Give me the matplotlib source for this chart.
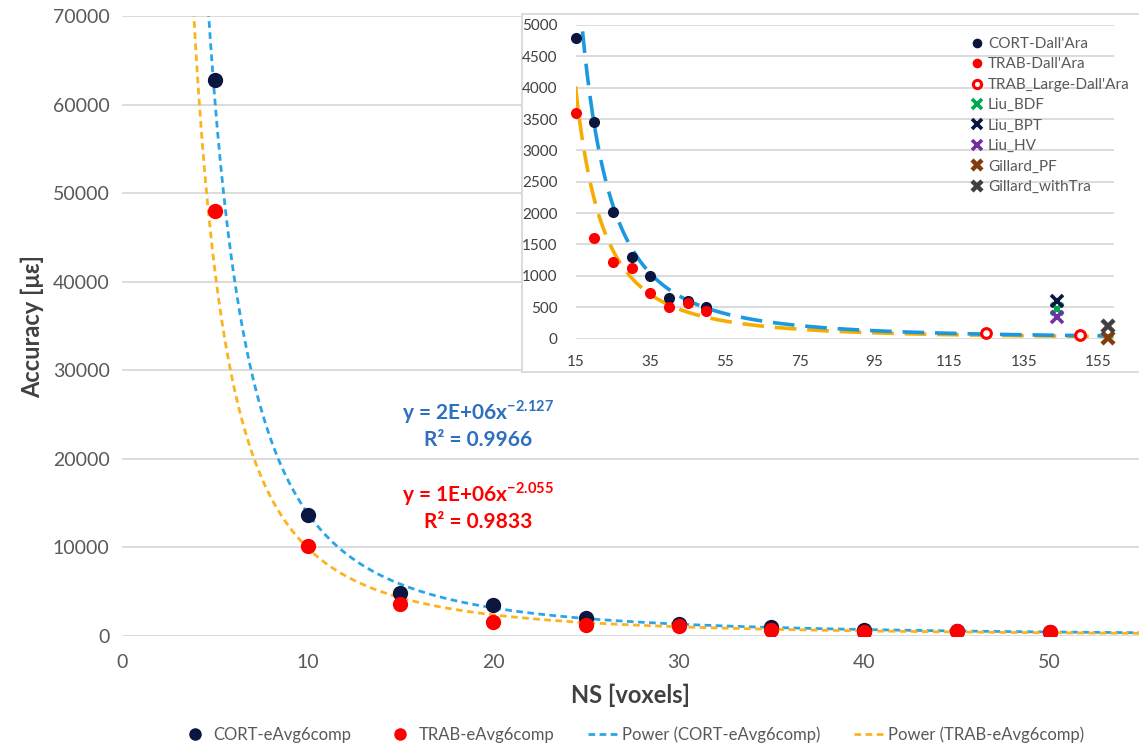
import numpy as np
import matplotlib
matplotlib.use("Agg")
import matplotlib.pyplot as plt
from matplotlib.lines import Line2D

plt.rcParams['font.family'] = ['Lato', 'DejaVu Sans']
plt.rcParams['mathtext.fontset'] = 'custom'
plt.rcParams['mathtext.rm'] = 'Lato'
plt.rcParams['mathtext.bf'] = 'Lato:bold'

# ---- main chart data: accuracy vs neighbourhood size ----
ns = [5, 10, 15, 20, 25, 30, 35, 40, 45, 50]
cort_eavg = [62800, 13700, 4800, 3450, 2020, 1300, 1000, 640, 600, 500]
trab_eavg = [48000, 10200, 3600, 1600, 1220, 1130, 730, 500, 560, 440]

# power-law trendlines y = a * x^b
cort_fit = (1.86e6, -2.127)
trab_fit = (1.13e6, -2.055)
cort_r2 = 0.9966
trab_r2 = 0.9833

# ---- inset data ----
dallara_x = [15, 20, 25, 30, 35, 40, 45, 50]
cort_dallara = [4800, 3450, 2020, 1300, 1000, 640, 600, 500]
trab_dallara = [3600, 1600, 1220, 1130, 730, 500, 560, 440]
trab_large_x = [125, 150]
trab_large = [90, 60]
liu_x = [144]
liu_bdf = [470]
liu_bpt = [600]
liu_hv = [350]
gillard_x = [157.5]
gillard_pf = [10]
gillard_tra = [200]
inset_cort_fit = (2.0e6, -2.127)
inset_trab_fit = (1.05e6, -2.055)

NAVY = '#0b1640'
RED = '#ff0000'
BLUE = '#29a6e8'
ORANGE = '#fbb41e'
GRID = '#d9d9d9'
TXT = '#595959'

W, H = 1139, 748
fig = plt.figure(figsize=(W / 100, H / 100), dpi=100)


def box(x0, y0, x1, y1):
    return [x0 / W, 1 - y1 / H, (x1 - x0) / W, (y1 - y0) / H]


def power(p, x):
    return p[0] * np.power(x, p[1])


def equation(p):
    return f"y = {p[0]:.0E}x" + rf"$^{{\mathbf{{{p[1]:.3f}}}}}$"


# ---------------- main axes ----------------
ax = fig.add_axes(box(122, 16, 1139, 636))
ax.set_xlim(0, 54.82)
ax.set_ylim(0, 70000)
ax.set_xticks(range(0, 51, 10))
ax.set_yticks(range(0, 70001, 10000))
ax.grid(axis='y', color=GRID, lw=1.3)
ax.set_axisbelow(True)
for s in ax.spines.values():
    s.set_visible(False)
ax.tick_params(length=0, labelsize=14, labelcolor=TXT)
ax.tick_params(axis='y', pad=9)
ax.tick_params(axis='x', pad=13)

xs = np.linspace(3, 56, 600)
ax.plot(xs, power(cort_fit, xs), color=BLUE, lw=2.0, dashes=(2.4, 1.6), zorder=2)
ax.plot(xs, power(trab_fit, xs), color=ORANGE, lw=2.0, dashes=(2.4, 1.6), zorder=2)
ax.plot(ns, cort_eavg, 'o', color=NAVY, ms=10, zorder=3)
ax.plot(ns, trab_eavg, 'o', color=RED, ms=10, zorder=3)

ax.set_ylabel('Accuracy [\u03bc\u03b5]', fontsize=17, fontweight='bold', color='#404040', labelpad=6)
ax.set_xlabel('NS [voxels]', fontsize=17, fontweight='bold', color='#404040', labelpad=9)

# trendline equations
eq_kw = dict(transform=fig.transFigure, ha='center', va='center', fontsize=15, fontweight='bold')
ax.text(478 / W, 1 - 412 / H, equation(cort_fit), color='#2e6fc0', **eq_kw)
ax.text(478 / W, 1 - 440 / H, f"R\u00b2 = {cort_r2:.4f}", color='#2e6fc0', **eq_kw)
ax.text(478 / W, 1 - 494 / H, equation(trab_fit), color=RED, **eq_kw)
ax.text(478 / W, 1 - 522 / H, f"R\u00b2 = {trab_r2:.4f}", color=RED, **eq_kw)

handles = [
    Line2D([], [], ls='none', marker='o', color=NAVY, ms=8),
    Line2D([], [], ls='none', marker='o', color=RED, ms=8),
    Line2D([], [], color=BLUE, lw=2.0, dashes=(2.4, 1.6)),
    Line2D([], [], color=ORANGE, lw=2.0, dashes=(2.4, 1.6)),
]
labels = ['CORT-eAvg6comp', 'TRAB-eAvg6comp', 'Power (CORT-eAvg6comp)', 'Power (TRAB-eAvg6comp)']
fig.legend(handles, labels, loc='center', bbox_to_anchor=(632 / W, 1 - 735 / H), ncol=4,
           frameon=False, fontsize=12, labelcolor=TXT, columnspacing=2.0,
           handlelength=1.8, handletextpad=0.25)

# ---------------- inset ----------------
frame = fig.add_axes(box(522, 14, 1150, 372), zorder=5)
frame.set_facecolor('white')
frame.set_xticks([])
frame.set_yticks([])
for s in frame.spines.values():
    s.set_color(GRID)
    s.set_linewidth(1.3)

ins = fig.add_axes(box(575.5, 25, 1113.5, 338.5), zorder=6)
ins.patch.set_alpha(0)
ins.set_xlim(15, 159)
ins.set_ylim(0, 5000)
ins.set_xticks(range(15, 156, 20))
ins.set_yticks(range(0, 5001, 500))
ins.grid(axis='y', color=GRID, lw=1.3)
ins.set_axisbelow(True)
for s in ins.spines.values():
    s.set_visible(False)
ins.tick_params(length=0, labelsize=11, labelcolor='#404040')
ins.tick_params(axis='y', pad=13)
ins.tick_params(axis='x', pad=12)

xi = np.linspace(15, 159, 600)
ins.plot(xi, power(inset_trab_fit, xi), color='#f5ae00', lw=2.6, dashes=(6.0, 3.0), zorder=2)
ins.plot(xi, power(inset_cort_fit, xi), color='#1b98e0', lw=2.6, dashes=(6.0, 3.0), zorder=2)

kw = dict(ls='none', clip_on=False, zorder=4)
ins.plot(dallara_x, cort_dallara, marker='o', color=NAVY, ms=7, label='CORT-Dall\'Ara', **kw)
ins.plot(dallara_x, trab_dallara, marker='o', color=RED, ms=7, label='TRAB-Dall\'Ara', **kw)
ins.plot(trab_large_x, trab_large, marker='o', mfc='white', mec=RED, mew=2.2, ms=7,
         label='TRAB_Large-Dall\'Ara', **kw)
ins.plot(liu_x, liu_bdf, marker='x', color='#00a850', ms=9, mew=2.6, label='Liu_BDF', **kw)
ins.plot(liu_x, liu_bpt, marker='x', color=NAVY, ms=9, mew=2.6, label='Liu_BPT', **kw)
ins.plot(liu_x, liu_hv, marker='x', color='#7030a0', ms=9, mew=2.6, label='Liu_HV', **kw)
ins.plot(gillard_x, gillard_pf, marker='x', color='#843c0c', ms=9, mew=3.2, label='Gillard_PF', **kw)
ins.plot(gillard_x, gillard_tra, marker='x', color='#404040', ms=9, mew=3.2, label='Gillard_withTra', **kw)

ins.legend(loc='upper left', bbox_to_anchor=((965 - 575.5) / 538, 0.981), frameon=False,
           fontsize=11, labelcolor=TXT, handlelength=0.8, handletextpad=0.3,
           labelspacing=0.42, borderaxespad=0, markerscale=0.85)

fig.savefig('out.png', dpi=100)
